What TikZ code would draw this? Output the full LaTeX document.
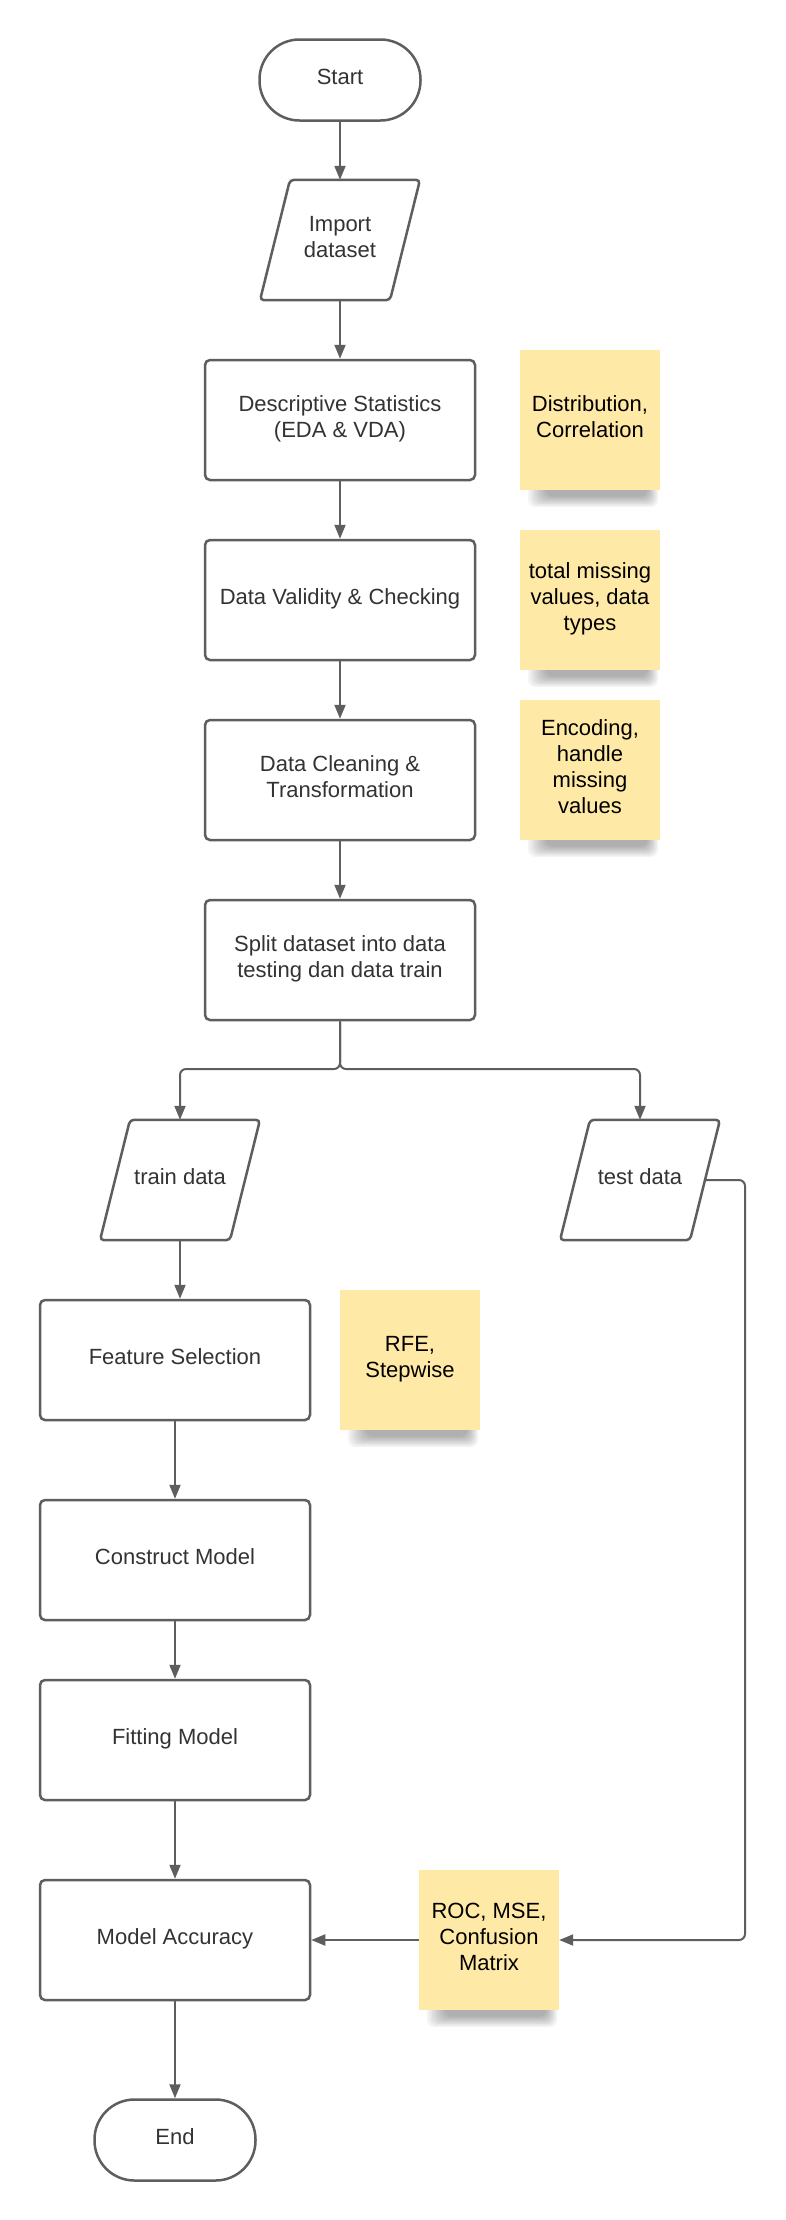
\documentclass[tikz,border=0pt]{standalone}
\usepackage{fontspec}
\setmainfont{Liberation Sans}
\usetikzlibrary{arrows.meta,calc}
\definecolor{linec}{HTML}{5E5E5E}
\definecolor{txt}{HTML}{333333}
\definecolor{sticky}{HTML}{FFE9A6}
\pgfdeclarelayer{bg}
\pgfsetlayers{bg,main}
\newcommand\noteshadow[1]{%
\begin{pgfonlayer}{bg}
\foreach \i in {0,...,7}{
  \fill[black, opacity=0.045, rounded corners=8pt] ($(#1.south west)+(8+2.5*\i,-20)$) rectangle ($(#1.south east)+(-2-1.5*\i,17-1.5*\i)$);
}
\end{pgfonlayer}}
\newcommand\paraframe[1]{%
\draw[draw=linec, line width=2.5pt, rounded corners=4pt]
  ($(#1.north)+(-50,0)$) -- ($(#1.north)+(80,0)$) -- ($(#1.south)+(50,0)$) -- ($(#1.south)+(-80,0)$) -- cycle;}
\begin{document}
\begin{tikzpicture}[x=1pt,y=-1pt,
  every node/.style={font=\fontsize{22}{26}\selectfont, align=center, inner sep=0pt,
    execute at end node={\rule[-7pt]{0pt}{1pt}}},
  proc/.style={draw=linec, line width=2.5pt, rounded corners=5pt, minimum width=270pt, minimum height=120pt, text=txt},
  term/.style={draw=linec, line width=2.5pt, rounded corners=40pt, minimum width=161pt, minimum height=81pt, text=txt},
  iobox/.style={minimum width=130pt, minimum height=120pt, text=txt},
  note/.style={fill=sticky, minimum width=140pt, minimum height=140pt, text=black},
  conn/.style={draw=linec, line width=2pt, -{Triangle[length=14pt,width=11pt]}}
]
\begin{pgfonlayer}{bg}
\fill[white] (0,0) rectangle (786,2220);
\end{pgfonlayer}
\useasboundingbox (0,0) rectangle (786,2220);

% main column
\node[term] (start) at (340,80) {Start};
\node[iobox] (imp) at (340,240) {Import\\dataset};
\paraframe{imp}
\node[proc] (desc) at (340,420) {Descriptive Statistics\\(EDA \& VDA)};
\node[proc] (valid) at (340,600) {Data Validity \& Checking};
\node[proc] (clean) at (340,780) {Data Cleaning \&\\Transformation};
\node[proc] (split) at (340,960) {Split dataset into data\\testing dan data train};

\node[iobox] (train) at (180,1180) {train data};
\paraframe{train}
\node[iobox] (test) at (640,1180) {test data};
\paraframe{test}

\node[proc] (feat) at (175,1360) {Feature Selection};
\node[proc] (cons) at (175,1560) {Construct Model};
\node[proc] (fit) at (175,1740) {Fitting Model};
\node[proc] (acc) at (175,1940) {Model Accuracy};
\node[term] (end) at (175,2140) {End};

% sticky notes
\node[note] (n1) at (590,420) {Distribution,\\Correlation};
\noteshadow{n1}
\node[note] (n2) at (590,600) {total missing\\values, data\\types};
\noteshadow{n2}
\node[note] (n3) at (590,770) {Encoding,\\handle\\missing\\values};
\noteshadow{n3}
\node[note] (n4) at (410,1360) {RFE,\\Stepwise};
\noteshadow{n4}
\node[note] (roc) at (489,1940) {ROC, MSE,\\Confusion\\Matrix};
\noteshadow{roc}

% connectors
\draw[conn] (start) -- (imp);
\draw[conn] (imp) -- (desc);
\draw[conn] (desc) -- (valid);
\draw[conn] (valid) -- (clean);
\draw[conn] (clean) -- (split);
\coordinate (br) at (340,1069);
\draw[conn, rounded corners=6pt] (split.south) -- (br) -| (train.north);
\draw[conn, rounded corners=6pt] (split.south) -- (br) -| (test.north);
\draw[conn] (train.south) -- (train.south |- feat.north);
\draw[conn] (feat) -- (cons);
\draw[conn] (cons) -- (fit);
\draw[conn] (fit) -- (acc);
\draw[conn] (acc) -- (end);
\coordinate (rt) at (745,1180);
\draw[conn, rounded corners=6pt] (test.east) -- (rt) |- (roc.east);
\draw[conn] (roc.west) -- (acc.east);
\end{tikzpicture}
\end{document}
